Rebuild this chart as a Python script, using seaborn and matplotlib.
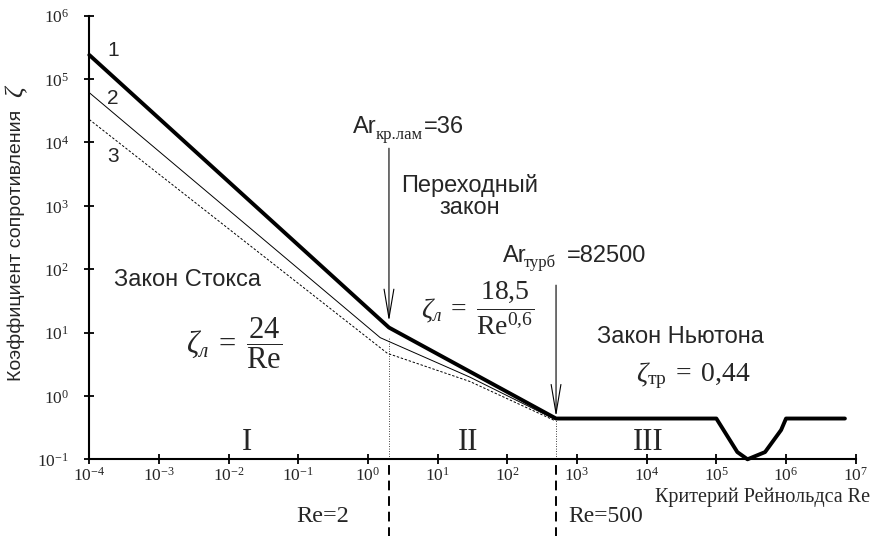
import numpy as np
import pandas as pd
import matplotlib
matplotlib.use("Agg")
import matplotlib.pyplot as plt
import seaborn as sns

# данные (Re, коэффициент сопротивления)
re_1 = [1e-4, 2, 500, 1e5, 2e5, 2.8e5, 5e5, 8.5e5, 1e6, 7e6]
zeta_1 = [2.4e5, 12, 0.44, 0.44, 0.13, 0.10, 0.13, 0.29, 0.44, 0.44]

re_2 = [1e-4, 1.5, 29, 475]
zeta_2 = [6.1e4, 8.3, 1.98, 0.43]

re_3 = [1e-4, 1.9, 29, 475]
zeta_3 = [2.3e4, 4.7, 1.69, 0.41]

# границы режимов
re_bounds = [2, 500]
zeta_bounds_top = [8.3, 0.44]

x_ticks = [10.0 ** p for p in range(-4, 8)]
y_ticks = [10.0 ** p for p in range(-1, 7)]

sns.set_theme(style="ticks")
plt.rcParams['font.family'] = ['Liberation Sans', 'DejaVu Sans']
plt.rcParams['mathtext.fontset'] = 'custom'
plt.rcParams['mathtext.rm'] = 'Liberation Serif'
plt.rcParams['mathtext.it'] = 'Liberation Serif:italic'
plt.rcParams['mathtext.bf'] = 'Liberation Serif:bold'
plt.rcParams['mathtext.sf'] = 'Liberation Sans'

W, H = 873, 536
fig = plt.figure(figsize=(W / 100, H / 100), dpi=100)
ax = fig.add_axes([89.3 / W, 1 - 459.3 / H, (855.7 - 89.3) / W, (459.3 - 15.7) / H])


def fxy(x, y):
    # пиксели -> доли фигуры
    return x / W, 1 - y / H


df1 = pd.DataFrame({'Re': re_1, 'zeta': zeta_1})
df2 = pd.DataFrame({'Re': re_2, 'zeta': zeta_2})
df3 = pd.DataFrame({'Re': re_3, 'zeta': zeta_3})

sns.lineplot(data=df1, x='Re', y='zeta', ax=ax, color='black', linewidth=2.8,
             estimator=None, sort=False, clip_on=False, zorder=4)
sns.lineplot(data=df2, x='Re', y='zeta', ax=ax, color='black', linewidth=0.7,
             estimator=None, sort=False, zorder=3)
sns.lineplot(data=df3, x='Re', y='zeta', ax=ax, color='black', linewidth=0.7,
             estimator=None, sort=False, zorder=3, dashes=False, linestyle=(0, (2.5, 1.8)))

ax.set_xscale('log')
ax.set_yscale('log')
ax.set_xlim(1e-4, 1e7)
ax.set_ylim(1e-1, 1e6)

# вертикальные границы режимов
for xb, yt in zip(re_bounds, zeta_bounds_top):
    ax.plot([xb, xb], [0.1, yt], color='black', linewidth=0.6, linestyle=(0, (1, 2)), zorder=2)
ax.vlines(re_bounds, -0.175, 0, transform=ax.get_xaxis_transform(), clip_on=False,
          colors='black', linewidth=1.4, linestyles=(0, (5, 3)))

# стрелки
arrow = dict(arrowstyle='->,head_length=1.3,head_width=0.22', lw=0.8, color='black',
             shrinkA=0, shrinkB=0, mutation_scale=16)
ax.annotate('', xy=(2, 15), xytext=(2, 8100), arrowprops=arrow)
ax.annotate('', xy=(500, 0.47), xytext=(500, 56), arrowprops=arrow)

ax.set_xticks(x_ticks)
ax.set_xticklabels([r'$10^{%d}$' % p for p in range(-4, 8)], fontsize=12.5)
ax.set_yticks(y_ticks)
ax.set_yticklabels([r'$10^{%d}$' % p for p in range(-1, 7)], fontsize=12.5)
ax.minorticks_off()
ax.tick_params(axis='both', direction='inout', length=7, width=1.3, color='black')
ax.tick_params(axis='x', pad=1)
ax.tick_params(axis='y', pad=11)

for s in ['top', 'right']:
    ax.spines[s].set_visible(False)
for s in ['left', 'bottom']:
    ax.spines[s].set_linewidth(1.5)
    ax.spines[s].set_color('black')

ax.set_xlabel('')
ax.set_ylabel('Коэффициент сопротивления', fontsize=14)
ax.yaxis.set_label_coords((25 - 89.3) / (855.7 - 89.3), (459.3 - 245) / 443.6)

# подписи
serif = ['Liberation Serif', 'DejaVu Serif']
fig.text(*fxy(16, 92), 'ζ', rotation=90, ha='center', va='center', fontsize=19,
         family=serif, style='italic')

fig.text(*fxy(113, 50), '1', ha='center', va='center', fontsize=15)
fig.text(*fxy(113, 98), '2', ha='center', va='center', fontsize=15)
fig.text(*fxy(113, 157), '3', ha='center', va='center', fontsize=15)

fig.text(*fxy(188, 280), 'Закон Стокса', ha='center', va='center', fontsize=17)
fig.text(*fxy(234, 343), r'$\zeta_{л}\;=\;\dfrac{24}{\mathrm{Re}}$', ha='center', va='center', fontsize=22)

fig.text(*fxy(470, 196), 'Переходный\nзакон', ha='center', va='center', fontsize=17,
         linespacing=1.0, multialignment='center')

fig.text(*fxy(353, 133), 'Ar', ha='left', va='baseline', fontsize=17)
fig.text(*fxy(376, 139), 'кр.лам', ha='left', va='baseline', fontsize=12, family=serif)
fig.text(*fxy(424, 133), '=36', ha='left', va='baseline', fontsize=17)

fig.text(*fxy(478, 308), r'$\zeta_{л}\;=\;\dfrac{18{,}5}{\mathrm{Re}^{0{,}6}}$', ha='center', va='center', fontsize=20)

fig.text(*fxy(503, 262), 'Ar', ha='left', va='baseline', fontsize=17)
fig.text(*fxy(524, 267), 'турб', ha='left', va='baseline', fontsize=12, family=serif)
fig.text(*fxy(567, 262), '=82500', ha='left', va='baseline', fontsize=17)

fig.text(*fxy(680, 337), 'Закон Ньютона', ha='center', va='center', fontsize=17)
fig.text(*fxy(693, 376), r'$\zeta_{\mathrm{тр}}\;=\;0{,}44$', ha='center', va='center', fontsize=20)

fig.text(*fxy(247, 450), 'I', ha='center', va='baseline', fontsize=22, family=serif)
fig.text(*fxy(468, 450), 'II', ha='center', va='baseline', fontsize=22, family=serif)
fig.text(*fxy(648, 450), 'III', ha='center', va='baseline', fontsize=22, family=serif)

fig.text(*fxy(323, 517), 'Re=2', ha='center', va='center', fontsize=17.5, family=serif)
fig.text(*fxy(568, 517), 'Re=500', ha='left', va='center', fontsize=17, family=serif)
fig.text(*fxy(655, 497), 'Критерий Рейнольдса Re', ha='left', va='center', fontsize=14.5, family=serif)

fig.savefig('out.png', dpi=100, facecolor='white')
